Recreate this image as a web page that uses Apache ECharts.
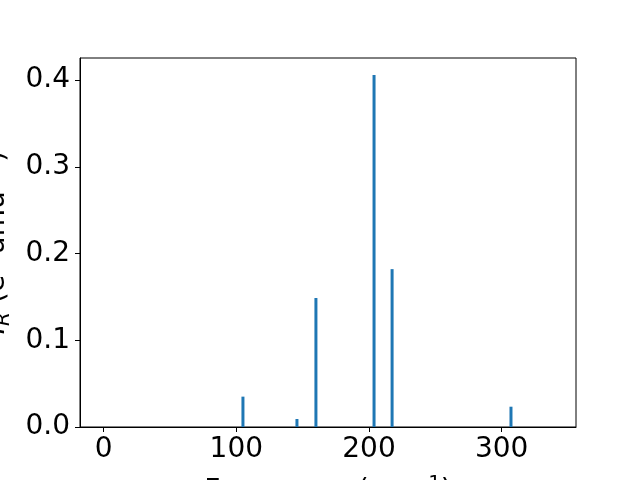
<!DOCTYPE html>
<html>
<head>
<meta charset="utf-8">
<script src="https://cdn.jsdelivr.net/npm/echarts@6/dist/echarts.min.js"></script>
<style>
  html, body { margin: 0; padding: 0; background: #fff; }
  #chart { width: 640px; height: 480px; }
</style>
</head>
<body>
<div id="chart"></div>
<script>
// frequencies (cm^-1) and Raman intensities
const frequencies = [105, 145.7, 160, 203.8, 217.4, 307];
const intensities = [0.035, 0.0092, 0.1487, 0.4058, 0.182, 0.0234];
const xTicks = [0, 100, 200, 300];
const yTicks = [0, 0.1, 0.2, 0.3, 0.4];

const font = 'DejaVu Sans';

const chart = echarts.init(document.getElementById('chart'), null, { renderer: 'canvas' });

const option = {
  animation: false,
  grid: {
    left: 80, right: 64, top: 58, bottom: 53,
    containLabel: false,
    outerBoundsMode: 'none',
    show: true, borderColor: '#000', borderWidth: 1, backgroundColor: 'transparent'
  },
  xAxis: {
    type: 'value',
    min: -17.8,
    max: 356,
    splitLine: { show: false },
    axisLine: { show: true, onZero: false, lineStyle: { color: '#000', width: 1 } },
    axisTick: { show: true, customValues: xTicks, length: 5, lineStyle: { color: '#000' } },
    axisLabel: {
      customValues: xTicks, color: '#000', fontFamily: font, fontSize: 28, margin: 9
    },
    name: '{n|Frequency (cm}{sup|−1}{n|)}',
    nameLocation: 'middle',
    nameGap: 47,
    nameTextStyle: {
      rich: {
        n: { fontFamily: font, fontSize: 28, color: '#000' },
        sup: { fontFamily: font, fontSize: 20, color: '#000', padding: [0, 0, 16, 0] }
      }
    }
  },
  yAxis: {
    type: 'value',
    min: 0,
    max: 0.4254,
    splitLine: { show: false },
    axisLine: { show: true, onZero: false, lineStyle: { color: '#000', width: 1 } },
    axisTick: { show: true, customValues: yTicks, length: 5, lineStyle: { color: '#000' } },
    axisLabel: {
      customValues: yTicks, color: '#000', fontFamily: font, fontSize: 28, margin: 10,
      formatter: v => v.toFixed(1)
    },
    name: '{i|I}{sub|R}{n| (e}{sup|2}{n| amu}{sup|−1}{n|)}',
    nameLocation: 'middle',
    nameGap: 65,
    nameRotate: 90,
    nameTextStyle: {
      rich: {
        i: { fontFamily: font, fontSize: 28, fontStyle: 'italic', color: '#000' },
        n: { fontFamily: font, fontSize: 28, color: '#000' },
        sub: { fontFamily: font, fontSize: 20, fontStyle: 'italic', color: '#000', padding: [14, 0, 0, 0] },
        sup: { fontFamily: font, fontSize: 20, color: '#000', padding: [0, 0, 16, 0] }
      }
    }
  },
  series: [{
    type: 'bar',
    barWidth: 3,
    itemStyle: { color: '#1f77b4' },
    data: frequencies.map((f, i) => [f, intensities[i]])
  }]
};

chart.setOption(option);
</script>
</body>
</html>
